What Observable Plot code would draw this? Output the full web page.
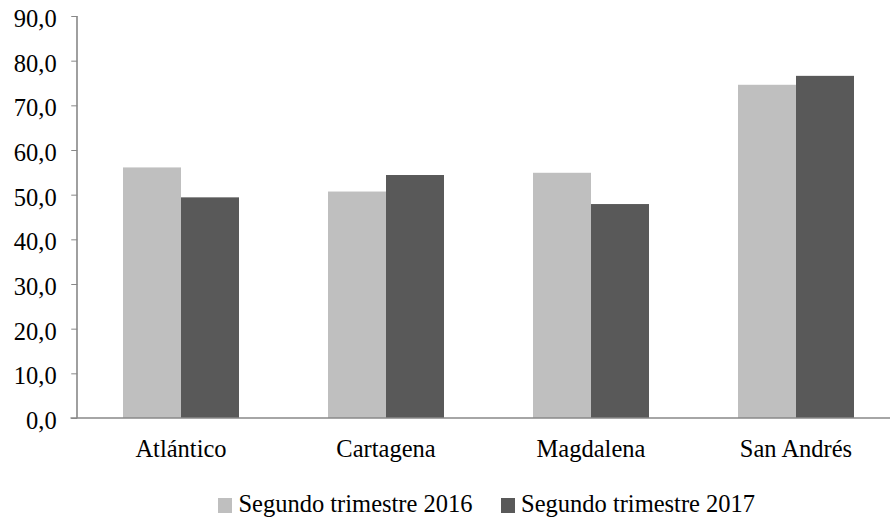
<!DOCTYPE html>
<html>
<head>
<meta charset="utf-8">
<script src="https://cdn.jsdelivr.net/npm/d3@7"></script>
<script src="https://cdn.jsdelivr.net/npm/@observablehq/plot@0.6"></script>
<style>
  html, body { margin: 0; padding: 0; background: white; overflow: hidden; }
  #chart { width: 890px; height: 490px; }
  #chart svg text { font-family: "Liberation Serif", "Times New Roman", serif; }
  .legend { position: absolute; left: 77px; top: 490px; width: 819px; height: 28px; line-height: 28px;
    display: flex; justify-content: center; align-items: center;
    font-family: "Liberation Serif", "Times New Roman", serif; font-size: 24.5px; color: #000; }
  .legend .item { display: flex; align-items: center; margin: 0 14px; }
  .legend .sw { width: 14.5px; height: 14.5px; margin-right: 6px; margin-top: 3px; }
</style>
</head>
<body>
<div id="chart"></div>
<script>
const regiones = ["Atlántico", "Cartagena", "Magdalena", "San Andrés"];
const series = ["Segundo trimestre 2016", "Segundo trimestre 2017"];
const valores2016 = [56.1, 50.7, 54.9, 74.6];
const valores2017 = [49.4, 54.4, 47.9, 76.6];
const yTicks = [0, 10, 20, 30, 40, 50, 60, 70, 80, 90];
const colores = ["#bfbfbf", "#595959"];

const datos = regiones.flatMap((r, i) => [
  {region: r, serie: series[0], valor: valores2016[i]},
  {region: r, serie: series[1], valor: valores2017[i]}
]);

const W = 890, ML = 77, MR = -10;
const pIn = 0.428, pOut = 0.218;
// the faceted y axis is drawn at the first facet's left edge; shift it back to the frame edge
const paso = (W - MR - ML) / (regiones.length - pIn + 2 * pOut);
const desplaz = paso * pOut;

const chart = Plot.plot({
  width: W,
  height: 490,
  marginLeft: ML,
  marginRight: MR,
  marginTop: 16,
  marginBottom: 72,
  style: {fontFamily: "'Liberation Serif', 'Times New Roman', serif", fontSize: "24.5px", color: "#000", background: "white", overflow: "hidden"},
  fx: {domain: regiones, paddingInner: pIn, paddingOuter: pOut, label: null},
  x: {domain: series, padding: 0, axis: null},
  y: {domain: [0, 90], label: null},
  color: {domain: series, range: colores},
  marks: [
    // tick marks
    Plot.axisY({ticks: yTicks, tickFormat: () => "", tickSize: 6, stroke: "#888", label: null, dx: -desplaz}),
    // tick labels, slightly lowered like the original
    Plot.axisY({ticks: yTicks, tickFormat: d => d.toFixed(1).replace(".", ","), tickSize: 0, tickPadding: 21,
      fill: "#000", label: null, dx: -desplaz, dy: 2.5, fontFamily: "Liberation Serif"}),
    Plot.axisFx({tickSize: 0, tickPadding: 21, label: null, anchor: "bottom", fill: "#000", fontFamily: "Liberation Serif"}),
    Plot.barY(datos, {fx: "region", x: "serie", y: "valor", fill: "serie"})
  ]
});

document.getElementById("chart").appendChild(chart);

// axis lines via the plot's own y scale
const sy = chart.scale("y");
const svg = d3.select(chart);
svg.append("line")
  .attr("x1", ML).attr("x2", ML)
  .attr("y1", sy.apply(0)).attr("y2", sy.apply(90))
  .attr("stroke", "#888").attr("stroke-width", 1.6);
svg.append("line")
  .attr("x1", ML - 6.5).attr("x2", W)
  .attr("y1", sy.apply(0)).attr("y2", sy.apply(0))
  .attr("stroke", "#888").attr("stroke-width", 1.6);

// soft drop shadow on the bars
const defs = svg.insert("defs", ":first-child");
const f = defs.append("filter").attr("id", "sombra").attr("x", "-20%").attr("y", "-20%").attr("width", "150%").attr("height", "140%");
f.append("feDropShadow").attr("dx", 2.5).attr("dy", 1.5).attr("stdDeviation", 1.8).attr("flood-color", "#000").attr("flood-opacity", 0.35);
svg.selectAll("rect").filter(function() { return this.parentNode.getAttribute("aria-label") === "bar"; })
  .attr("filter", "url(#sombra)");

// legend below the svg, centred on the plot area
const leg = d3.select("body").append("div").attr("class", "legend");
series.forEach((s, i) => {
  const it = leg.append("div").attr("class", "item");
  it.append("div").attr("class", "sw").style("background", colores[i]);
  it.append("span").text(s);
});
</script>
</body>
</html>
